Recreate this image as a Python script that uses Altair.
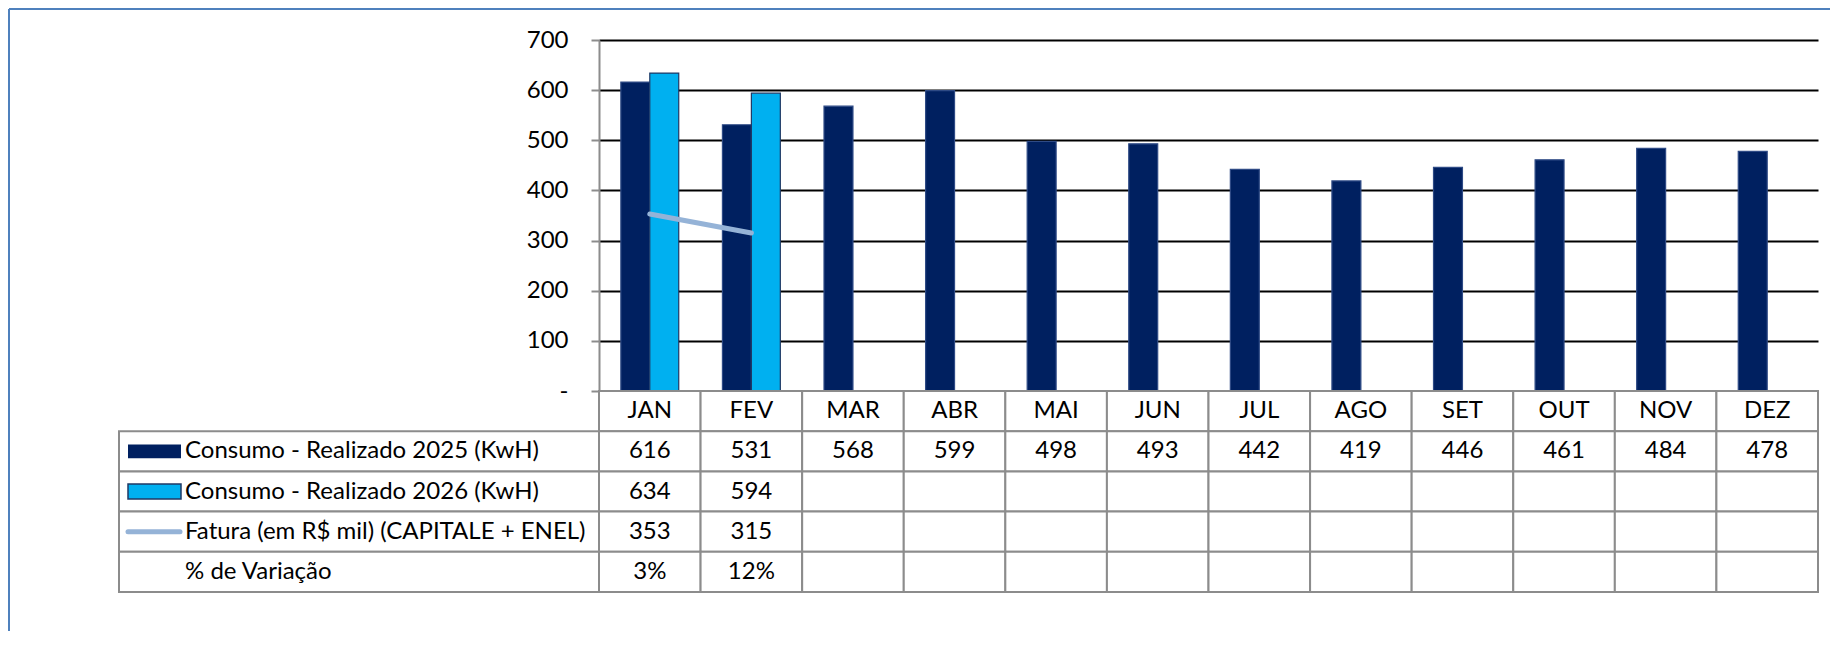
import altair as alt
import pandas as pd

# ---------------- data ----------------
months = ["JAN", "FEV", "MAR", "ABR", "MAI", "JUN", "JUL", "AGO", "SET", "OUT", "NOV", "DEZ"]
consumo_2025 = [616, 531, 568, 599, 498, 493, 442, 419, 446, 461, 484, 478]
consumo_2026 = [634, 594]
fatura = [353, 315]
variacao = ["3%", "12%"]
series_names = ["2025", "2026"]
row_keys = ["mes", "c2025", "c2026", "fatura", "var"]
row_labels = ["", "Consumo - Realizado 2025 (KwH)", "Consumo - Realizado 2026 (KwH)",
              "Fatura (em R$ mil) (CAPITALE + ENEL)", "% de Variação"]
y_ticks = [0, 100, 200, 300, 400, 500, 600, 700]

# ---------------- styles ----------------
FONT = "Lato"
FS = 24
NAVY = "#002060"
CYAN = "#00B0F0"
LINEBLUE = "#95B3D7"
GRAY = "#8c8c8c"
FRAME = "#4F81BD"

# ---------------- tables ----------------
bar_df = pd.DataFrame(
    [{"month": m, "series": "2025", "value": v} for m, v in zip(months, consumo_2025)]
    + [{"month": m, "series": "2026", "value": v} for m, v in zip(months, consumo_2026)]
)
line_df = pd.DataFrame({"month": months[:len(fatura)], "value": fatura})


def pad(vals, n):
    return [str(v) for v in vals] + [""] * (n - len(vals))


row_texts = {
    "mes": months,
    "c2025": pad(consumo_2025, len(months)),
    "c2026": pad(consumo_2026, len(months)),
    "fatura": pad(fatura, len(months)),
    "var": pad(variacao, len(months)),
}
cell_df = pd.DataFrame(
    [{"row": r, "month": m, "text": t} for r in row_keys for m, t in zip(months, row_texts[r])]
)
label_df = pd.DataFrame({"row": row_keys[1:], "label": row_labels[1:]})

# ---------------- top: bars + line ----------------
x_bar = alt.X("month:N", sort=months,
              scale=alt.Scale(domain=months, paddingInner=0.43, paddingOuter=0.215),
              axis=None)
y_val = alt.Y(
    "value:Q",
    scale=alt.Scale(domain=[0, 700], nice=False),
    axis=alt.Axis(
        values=y_ticks, title=None,
        labelExpr="datum.value == 0 ? '-\u2002' : datum.label",
        labelFont=FONT, labelFontSize=FS, labelColor="black", labelPadding=23,
        tickSize=8, tickColor=GRAY, tickWidth=2,
        domainColor=GRAY, domainWidth=2,
        grid=True, gridWidth=2,
        gridColor=alt.condition("datum.value == 0", alt.value(GRAY), alt.value("black")),
    ),
)

bars = alt.Chart(bar_df).mark_bar(strokeWidth=1.2).encode(
    x=x_bar,
    xOffset=alt.XOffset("series:N", scale=alt.Scale(domain=series_names, paddingInner=0, paddingOuter=0)),
    y=y_val,
    color=alt.Color("series:N", scale=alt.Scale(domain=series_names, range=[NAVY, CYAN]), legend=None),
    stroke=alt.Stroke("series:N", scale=alt.Scale(domain=series_names, range=["#2E4A85", "#1F3864"]), legend=None),
)
line = alt.Chart(line_df).mark_line(color=LINEBLUE, strokeWidth=5, strokeCap="round").encode(
    x=alt.X("month:N", sort=months),
    y=alt.Y("value:Q"),
)
top = alt.layer(bars, line).properties(width=1219, height=351)

# ---------------- spacer with outer frame ----------------
one = pd.DataFrame({"k": [0]})
frame_v = alt.Chart(one).mark_rule(color=FRAME, strokeWidth=2).encode(
    x=alt.value(-110), y=alt.value(-31), y2=alt.value(591))
frame_h = alt.Chart(one).mark_rule(color=FRAME, strokeWidth=2).encode(
    x=alt.value(-110), x2=alt.value(1711), y=alt.value(-31))
spacer = alt.layer(frame_v, frame_h).properties(width=480, height=351)

# ---------------- bottom: legend column + data table ----------------
y_row = alt.Y("row:N", sort=row_keys,
              scale=alt.Scale(domain=row_keys, paddingInner=0, paddingOuter=0), axis=None)

label_cells = alt.Chart(label_df).mark_rect(fill="white", stroke=GRAY, strokeWidth=2).encode(y=y_row)
label_text = alt.Chart(label_df).mark_text(
    align="left", baseline="middle", font=FONT, fontSize=FS, color="black"
).encode(y=y_row, x=alt.value(66), text="label:N")
sw25 = alt.Chart(pd.DataFrame({"row": ["c2025"]})).mark_point(
    shape="M-1,-0.26H1V0.26H-1Z", size=2809, filled=True, fill=NAVY, opacity=1, strokeWidth=0
).encode(y=y_row, x=alt.value(35.5))
sw26 = alt.Chart(pd.DataFrame({"row": ["c2026"]})).mark_point(
    shape="M-1,-0.28H1V0.28H-1Z", size=2809, filled=True, fill=CYAN, opacity=1,
    stroke="#1F3864", strokeWidth=1.5
).encode(y=y_row, x=alt.value(35.5))
swline = alt.Chart(pd.DataFrame({"row": ["fatura"]})).mark_point(
    shape="M-1,0H1", size=2704, filled=False, stroke=LINEBLUE, opacity=1,
    strokeWidth=5, strokeCap="round"
).encode(y=y_row, x=alt.value(35))
labels = alt.layer(label_cells, sw25, sw26, swline, label_text).properties(width=480, height=201)

x_tab = alt.X("month:N", sort=months, scale=alt.Scale(domain=months, paddingInner=0, paddingOuter=0), axis=None)
table_rect = alt.Chart(cell_df).mark_rect(fill="white", stroke=GRAY, strokeWidth=2).encode(x=x_tab, y=y_row)
table_text = alt.Chart(cell_df).mark_text(
    align="center", baseline="middle", font=FONT, fontSize=FS, color="black"
).encode(x=x_tab, y=y_row, text="text:N")
table = alt.layer(table_rect, table_text).properties(width=1219, height=201)

# ---------------- compose ----------------
chart = (
    alt.concat(spacer, top, labels, table, columns=2, spacing=0, bounds="flush")
    .properties(padding=0)
    .configure(font=FONT)
    .configure_view(stroke="transparent", strokeWidth=0)
)

chart.save("out.html", embed_options={"renderer": "svg", "actions": False})
